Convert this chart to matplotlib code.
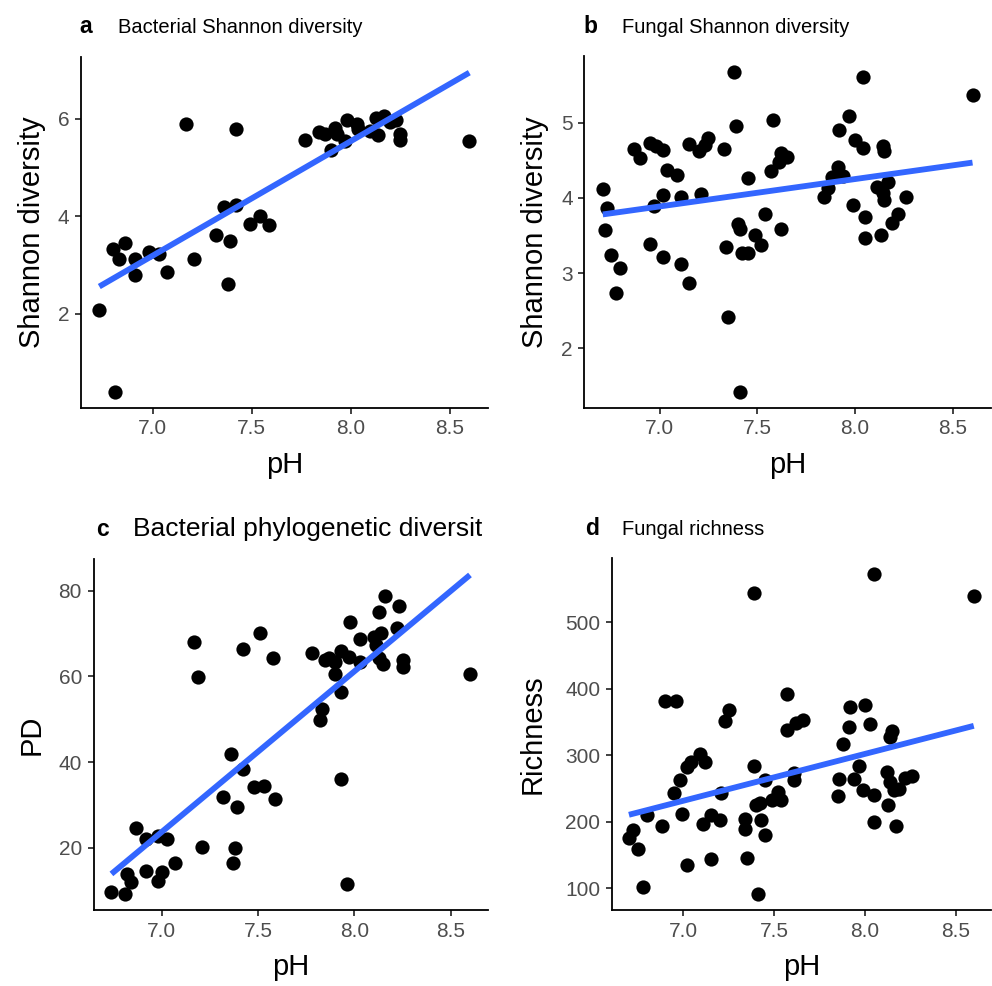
import matplotlib
matplotlib.use('Agg')
import matplotlib.pyplot as plt
from matplotlib.transforms import Bbox, TransformedBbox

plt.rcParams['font.family'] = ['Liberation Sans', 'DejaVu Sans']

# ---- data ----
# a: bacterial Shannon diversity vs pH
a_ph = [7.17, 7.42, 7.36, 7.42, 7.54, 7.49, 7.59, 7.32, 7.39, 7.38, 7.21, 6.80, 6.86, 6.83,
        6.91, 6.98, 7.03, 6.91, 7.07, 6.73, 6.81, 7.77, 7.84, 7.87, 7.92, 7.93, 7.98, 8.03,
        8.04, 7.90, 7.97, 8.10, 8.13, 8.17, 8.20, 8.23, 8.14, 8.25, 8.25, 8.60]
a_shannon = [5.90, 5.80, 4.20, 4.23, 4.01, 3.85, 3.83, 3.62, 3.50, 2.62, 3.12, 3.34, 3.45, 3.12,
             3.12, 3.27, 3.22, 2.79, 2.85, 2.08, 0.40, 5.56, 5.74, 5.70, 5.81, 5.70, 5.97, 5.90,
             5.79, 5.37, 5.54, 5.76, 6.02, 6.05, 5.93, 5.98, 5.66, 5.70, 5.57, 5.54]
a_fit_ph = [6.73, 8.60]
a_fit = [2.56, 6.95]

# b: fungal Shannon diversity vs pH
b_ph = [7.38, 7.39, 7.58, 6.71, 6.73, 6.72, 6.75, 6.80, 6.78, 6.87, 6.90, 6.95, 6.98, 7.02,
        7.04, 7.09, 7.02, 6.97, 7.11, 7.21, 6.95, 7.02, 7.11, 7.15, 7.15, 7.20, 7.23, 7.25,
        7.33, 7.45, 7.57, 7.61, 7.62, 7.65, 7.54, 7.40, 7.41, 7.49, 7.52, 7.62, 7.34, 7.42,
        7.45, 7.35, 7.41, 8.04, 8.60, 7.97, 7.92, 8.00, 8.04, 8.14, 8.15, 7.91, 7.88, 7.94,
        7.86, 7.84, 8.11, 8.17, 8.14, 8.15, 8.26, 7.99, 8.05, 8.22, 8.19, 8.05, 8.13]
b_shannon = [5.68, 4.96, 5.04, 4.12, 3.86, 3.57, 3.24, 3.07, 2.74, 4.65, 4.53, 4.73, 4.69, 4.64,
             4.37, 4.31, 4.04, 3.89, 4.01, 4.05, 3.39, 3.21, 3.12, 2.87, 4.72, 4.63, 4.70, 4.80,
             4.65, 4.26, 4.36, 4.48, 4.60, 4.54, 3.79, 3.65, 3.59, 3.50, 3.37, 3.58, 3.35, 3.26,
             3.26, 2.41, 1.42, 5.61, 5.37, 5.09, 4.90, 4.77, 4.67, 4.69, 4.63, 4.41, 4.28, 4.29,
             4.13, 4.01, 4.15, 4.21, 4.06, 3.97, 4.01, 3.90, 3.74, 3.79, 3.66, 3.47, 3.51]
b_fit_ph = [6.71, 8.60]
b_fit = [3.78, 4.47]

# c: bacterial phylogenetic diversity vs pH
c_ph = [6.74, 6.81, 6.82, 6.84, 6.87, 6.92, 6.92, 6.98, 7.03, 7.00, 6.98, 7.07, 7.17, 7.19,
        7.21, 7.36, 7.42, 7.32, 7.39, 7.38, 7.37, 7.42, 7.51, 7.58, 7.48, 7.53, 7.59, 8.16,
        8.23, 8.13, 7.98, 8.03, 8.10, 8.14, 8.22, 8.11, 7.78, 7.85, 7.87, 7.90, 7.93, 7.97,
        8.03, 8.13, 8.15, 8.25, 8.25, 7.90, 7.93, 7.83, 7.82, 7.93, 7.96, 8.60]
c_pd = [9.6, 9.2, 13.9, 12.1, 24.7, 22.0, 14.6, 22.7, 22.0, 14.3, 12.2, 16.5, 68.1, 59.8,
        20.1, 42.0, 38.5, 31.8, 29.6, 20.0, 16.5, 66.4, 70.1, 64.4, 34.1, 34.4, 31.4, 78.8,
        76.4, 75.1, 72.8, 68.7, 69.1, 70.1, 71.2, 67.3, 65.4, 63.8, 64.4, 63.4, 66.0, 64.6,
        63.4, 64.4, 63.0, 63.8, 62.3, 60.6, 56.4, 52.3, 49.8, 36.0, 11.5, 60.5]
c_fit_ph = [6.74, 8.60]
c_fit = [13.9, 83.7]

# d: fungal richness vs pH
d_ph = [7.39, 6.90, 6.96, 7.23, 7.25, 6.72, 6.70, 6.75, 6.78, 6.80, 6.88, 6.95, 6.98, 6.99,
        7.02, 7.04, 7.09, 7.12, 7.02, 7.11, 7.15, 7.20, 7.15, 7.21, 7.39, 7.34, 7.34, 7.35,
        7.40, 7.42, 7.43, 7.45, 7.41, 7.45, 7.49, 7.52, 7.54, 7.57, 7.57, 8.05, 8.60, 7.62,
        7.66, 7.61, 7.61, 7.92, 8.00, 7.91, 8.03, 7.88, 8.15, 8.14, 7.97, 7.86, 7.94, 8.12,
        8.14, 8.16, 8.19, 8.22, 8.26, 7.85, 7.99, 8.05, 8.13, 8.05, 8.17]
d_richness = [544, 381, 381, 352, 368, 187, 175, 159, 101, 210, 193, 243, 263, 212,
              282, 290, 302, 290, 135, 197, 210, 203, 143, 243, 283, 204, 189, 145,
              225, 228, 202, 180, 91, 262, 233, 244, 232, 392, 337, 572, 539, 349,
              353, 273, 263, 372, 375, 342, 347, 316, 336, 327, 283, 264, 264, 274,
              259, 248, 249, 265, 268, 239, 247, 240, 225, 200, 194]
d_fit_ph = [6.70, 8.60]
d_fit = [210.2, 344.0]

FIG_W, FIG_H = 992, 986
TICK_GREY = '#4D4D4D'
LINE_BLUE = '#3366FF'


def expand(lo, hi, f=0.05):
    r = hi - lo
    return lo - f * r, hi + f * r


def draw_panel(fig, box, ph, vals, fit_ph, fit_vals, ylabel, yticks, ylab_x, xlab_y):
    left, right, top, bottom = box
    ax = fig.add_axes([left / FIG_W, 1 - bottom / FIG_H,
                       (right - left) / FIG_W, (bottom - top) / FIG_H])
    ax.scatter(ph, vals, s=105, color='black', linewidths=0, zorder=2)
    ax.plot(fit_ph, fit_vals, color=LINE_BLUE, lw=4.2, solid_capstyle='butt', zorder=3)

    ax.set_xlim(*expand(min(ph), max(ph)))
    ally = list(vals) + list(fit_vals)
    ax.set_ylim(*expand(min(ally), max(ally)))
    ax.set_xticks([7.0, 7.5, 8.0, 8.5])
    ax.set_xticklabels(['7.0', '7.5', '8.0', '8.5'])
    ax.set_yticks(yticks)
    ax.set_yticklabels([str(t) for t in yticks])

    for s in ['top', 'right']:
        ax.spines[s].set_visible(False)
    for s in ['left', 'bottom']:
        ax.spines[s].set_linewidth(1.3)
        ax.spines[s].set_color('black')
    ax.tick_params(length=4.3, width=1.3, color='#333333', labelcolor=TICK_GREY,
                   labelsize=15, pad=4)

    cx = (left + right) / 2
    fig.text(cx / FIG_W, 1 - xlab_y / FIG_H, 'pH', fontsize=21, ha='center', va='center')
    fig.text(ylab_x / FIG_W, 1 - ((top + bottom) / 2) / FIG_H, ylabel, fontsize=21,
             rotation=90, ha='center', va='center')
    return ax


def draw_title(fig, letter, title, letter_x, text_x, base_y, size=14.5, clip_x=None):
    fig.text(letter_x / FIG_W, 1 - base_y / FIG_H, letter, fontsize=16.5,
             fontweight='bold', ha='left', va='baseline')
    t = fig.text(text_x / FIG_W, 1 - base_y / FIG_H, title, fontsize=size,
                 ha='left', va='baseline')
    if clip_x is not None:
        # the title runs past its cell in the reference and is cut there
        clip = TransformedBbox(Bbox([[0, 0], [clip_x / FIG_W, 1]]), fig.transFigure)
        t.set_clip_box(clip)
        t.set_clip_on(True)


fig = plt.figure(figsize=(FIG_W / 100, FIG_H / 100), dpi=100)

draw_panel(fig, (80.8, 487.8, 56.7, 407.7), a_ph, a_shannon, a_fit_ph, a_fit,
           'Shannon diversity', [2, 4, 6], ylab_x=32, xlab_y=465)
draw_panel(fig, (584.3, 991.0, 55.7, 407.7), b_ph, b_shannon, b_fit_ph, b_fit,
           'Shannon diversity', [2, 3, 4, 5], ylab_x=535, xlab_y=465)
draw_panel(fig, (93.5, 487.9, 559.0, 910.0), c_ph, c_pd, c_fit_ph, c_fit,
           'PD', [20, 40, 60, 80], ylab_x=32, xlab_y=967)
draw_panel(fig, (611.7, 991.0, 558.3, 910.0), d_ph, d_richness, d_fit_ph, d_fit,
           'Richness', [100, 200, 300, 400, 500], ylab_x=533, xlab_y=967)

draw_title(fig, 'a', 'Bacterial Shannon diversity', 79, 118, 33)
draw_title(fig, 'b', 'Fungal Shannon diversity', 583, 622, 33)
draw_title(fig, 'c', 'Bacterial phylogenetic diversity', 96, 133, 536, size=19, clip_x=482)
draw_title(fig, 'd', 'Fungal richness', 585, 622, 535)

fig.savefig('out.png', dpi=100, facecolor='white')
plt.close(fig)
